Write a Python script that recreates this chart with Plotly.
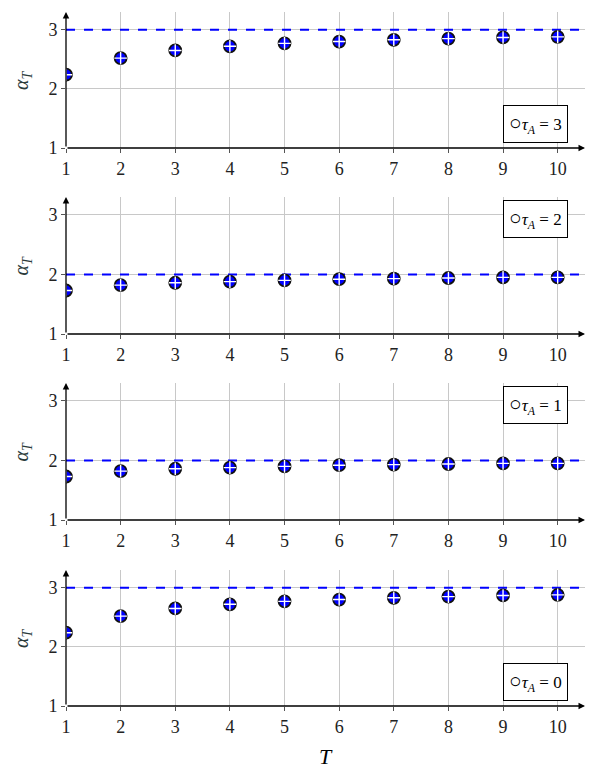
import plotly.graph_objects as go

T = [1, 2, 3, 4, 5, 6, 7, 8, 9, 10]
alpha_tau3 = [2.24, 2.52, 2.65, 2.72, 2.77, 2.80, 2.83, 2.85, 2.87, 2.88]
alpha_tau2 = [1.73, 1.82, 1.86, 1.88, 1.90, 1.92, 1.93, 1.94, 1.95, 1.95]
alpha_tau1 = [1.73, 1.82, 1.86, 1.88, 1.90, 1.92, 1.93, 1.94, 1.95, 1.95]
alpha_tau0 = [2.24, 2.52, 2.65, 2.72, 2.77, 2.80, 2.83, 2.85, 2.87, 2.88]
series = [alpha_tau3, alpha_tau2, alpha_tau1, alpha_tau0]
targets = [3, 2, 2, 3]
tau_labels = ["3", "2", "1", "0"]
legend_top = [False, True, True, False]
y_ticks = [1, 2, 3]
x_range = [1, 10.5]
y_range = [1, 3.3]

FONT = "Liberation Serif, DejaVu Serif, serif"
OFF = 8  # default page body margin
W, H = 598 - OFF, 777 - OFF
ml, mr, mt, mb = 66 - OFF, 13, 12 - OFF, 71
ph = H - mt - mb
panel_px = [(12, 148), (197, 334), (383, 520), (570, 706)]

fig = go.Figure()
for i, (vals, tgt, lab, top) in enumerate(zip(series, targets, tau_labels, legend_top)):
    n = "" if i == 0 else str(i + 1)
    xa, ya = "x" + n, "y" + n
    top_px, bot_px = [p - OFF for p in panel_px[i]]
    dom = [(H - mb - bot_px) / ph, (H - mb - top_px) / ph]
    fig.add_trace(go.Scatter(x=x_range, y=[tgt, tgt], mode="lines", xaxis=xa, yaxis=ya,
                             line=dict(color="#0000ff", width=2, dash="dash"),
                             showlegend=False, hoverinfo="skip"))
    fig.add_trace(go.Scatter(x=T, y=vals, mode="markers", xaxis=xa, yaxis=ya,
                             marker=dict(symbol="circle", size=12, color="#0000ff",
                                         line=dict(color="#111", width=1.8)),
                             showlegend=False, hoverinfo="skip"))
    fig.add_trace(go.Scatter(x=T, y=vals, mode="markers", xaxis=xa, yaxis=ya,
                             marker=dict(symbol="cross-thin-open", size=9, color="white",
                                         line=dict(color="white", width=1.4)),
                             showlegend=False, hoverinfo="skip"))
    axkey = "xaxis" + n
    aykey = "yaxis" + n
    fig.layout[axkey] = dict(domain=[0, 1], range=x_range, anchor=ya, automargin=False,
                             tickvals=T, showgrid=True, gridcolor="#c8c8c8", gridwidth=1,
                             showline=False, zeroline=False, ticks="outside", ticklen=4,
                             tickcolor="#555", tickfont=dict(family=FONT, size=18, color="#222"),
                             fixedrange=True)
    fig.layout[aykey] = dict(domain=dom, range=y_range, anchor=xa, automargin=False,
                             tickvals=y_ticks, showgrid=True, gridcolor="#c8c8c8", gridwidth=1,
                             showline=False, zeroline=False, ticks="outside", ticklen=4,
                             tickcolor="#555", tickfont=dict(family=FONT, size=18, color="#222"),
                             fixedrange=True)
    # y axis title
    fig.add_annotation(xref="paper", yref=ya + " domain", x=0, xshift=-44, y=0.5,
                       xanchor="center", yanchor="middle", textangle=-90,
                       text="<i>α</i><sub><i>T</i></sub>", showarrow=False,
                       font=dict(family=FONT, size=20, color="#2a3a3a"))
    # axes with arrows
    fig.add_annotation(xref=xa + " domain", yref=ya + " domain", axref=xa + " domain",
                       ayref=ya + " domain", x=1, y=0, ax=0, ay=0, showarrow=True,
                       arrowhead=2, arrowsize=1, arrowwidth=1.3, arrowcolor="black", text="")
    fig.add_annotation(xref=xa + " domain", yref=ya + " domain", axref=xa + " domain",
                       ayref=ya + " domain", x=0, y=1, ax=0, ay=0, showarrow=True,
                       arrowhead=2, arrowsize=1, arrowwidth=1.3, arrowcolor="black", text="")
    # legend box
    fig.add_annotation(xref=xa + " domain", yref=ya + " domain",
                       x=0.967, y=(0.975 if top else 0.035), xanchor="right",
                       yanchor=("top" if top else "bottom"),
                       text="<span style='font-size:21px'><b>○</b></span><i>τ</i><sub><i>A</i></sub> = " + lab,
                       showarrow=False, bordercolor="black", borderwidth=1, borderpad=5,
                       bgcolor="white", font=dict(family=FONT, size=17, color="black"))

fig.add_annotation(xref="paper", yref="paper", x=0.5, y=0, yshift=-36, xanchor="center",
                   yanchor="top", text="<i>T</i>", showarrow=False,
                   font=dict(family=FONT, size=22, color="black"))

fig.update_layout(width=W, height=H, margin=dict(l=ml, r=mr, t=mt, b=mb),
                  plot_bgcolor="white", paper_bgcolor="white", showlegend=False)
fig.write_html("out.html")
